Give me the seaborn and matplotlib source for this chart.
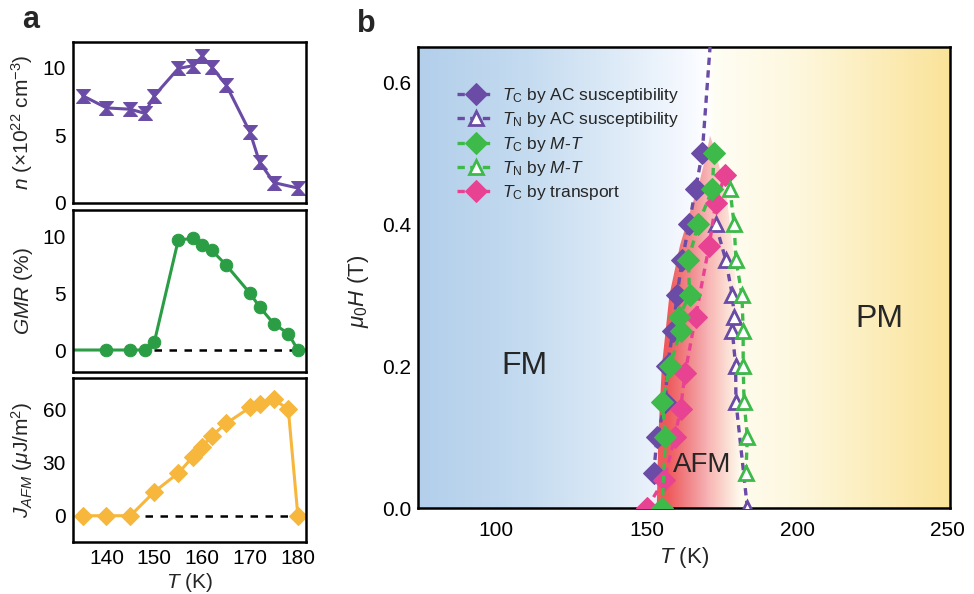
import numpy as np
import pandas as pd
import matplotlib
matplotlib.use("Agg")
import matplotlib.pyplot as plt
import seaborn as sns
from matplotlib.path import Path
from matplotlib.patches import Polygon

sns.set_style("white")
plt.rcParams["font.family"] = ["Liberation Sans", "DejaVu Sans"]
plt.rcParams["mathtext.fontset"] = "custom"
plt.rcParams["mathtext.rm"] = "Liberation Sans"
plt.rcParams["mathtext.it"] = "Liberation Sans:italic"
plt.rcParams["mathtext.bf"] = "Liberation Sans:bold"

# ---------------- Panel a data ----------------
T_n = [135, 140, 145, 148, 150, 155, 158, 160, 162, 165, 170, 172, 175, 180]
n_vals = [7.9, 7.0, 6.9, 6.6, 7.9, 9.9, 10.1, 10.8, 10.0, 8.7, 5.2, 3.0, 1.5, 1.1]

T_gmr = [133, 140, 145, 148, 150, 155, 158, 160, 162, 165, 170, 172, 175, 178, 180, 182]
gmr_vals = [0, 0, 0, 0, 0.7, 9.7, 9.85, 9.3, 8.8, 7.5, 5.0, 3.8, 2.3, 1.45, 0, 0]

T_j = [135, 140, 145, 150, 155, 158, 160, 162, 165, 170, 172, 175, 178, 180, 182]
j_vals = [0, 0, 0, 13.5, 24, 33, 39, 45, 52, 61, 63, 65.5, 60, 0, 0]

# ---------------- Panel b data ----------------
H_tc_ac = [0.05, 0.10, 0.15, 0.20, 0.25, 0.30, 0.35, 0.40, 0.45, 0.50]
T_tc_ac = [152.3, 153.4, 156.2, 156.8, 158.7, 160.0, 161.8, 164.0, 166.2, 168.4]
H_tc_ac_guide = [0.50, 0.65]
T_tc_ac_guide = [168.4, 171.0]

H_tn_ac = [0.0, 0.15, 0.20, 0.25, 0.27, 0.30, 0.35, 0.40]
T_tn_ac = [183.4, 179.6, 179.5, 178.4, 179.0, 178.4, 176.2, 172.9]

H_tc_mt = [0.0, 0.10, 0.15, 0.20, 0.25, 0.27, 0.30, 0.35, 0.40, 0.45, 0.50]
T_tc_mt = [155.1, 156.2, 155.1, 157.7, 161.2, 160.7, 164.2, 163.8, 167.1, 171.8, 172.3]

H_tn_mt = [0.05, 0.10, 0.15, 0.20, 0.25, 0.30, 0.35, 0.40, 0.45]
T_tn_mt = [182.9, 183.4, 182.3, 182.0, 182.0, 181.6, 179.6, 179.0, 177.6]

H_tc_tr = [0.0, 0.04, 0.10, 0.14, 0.19, 0.27, 0.37, 0.43, 0.47]
T_tc_tr = [150.1, 155.7, 159.3, 161.2, 162.7, 166.2, 170.7, 172.9, 176.0]

PURPLE = "#6a4ba5"
GREEN_A = "#2a9d45"
GOLD = "#f6b73c"
GREEN_B = "#3dba4a"
PINK = "#e84393"

W, H = 974, 594
fig = plt.figure(figsize=(W / 100, H / 100), dpi=100)


def box(l, t, r, b):
    return [l / W, 1 - b / H, (r - l) / W, (b - t) / H]


def style_axes(ax):
    for s in ax.spines.values():
        s.set_linewidth(1.8)
        s.set_color("black")
    ax.tick_params(direction="in", length=8, width=1.8, labelsize=15,
                   colors="black", pad=5)


# ---------------- Panel a ----------------
ax1 = fig.add_axes(box(73, 42, 306, 203))
ax2 = fig.add_axes(box(73, 210, 306, 372))
ax3 = fig.add_axes(box(73, 378, 306, 542))

hourglass = Path([(-1, 1), (1, 1), (0.12, 0), (1, -1), (-1, -1), (-0.12, 0), (-1, 1)],
                 [Path.MOVETO, Path.LINETO, Path.LINETO, Path.LINETO,
                  Path.LINETO, Path.LINETO, Path.CLOSEPOLY])

sns.lineplot(x=T_n, y=n_vals, ax=ax1, color=PURPLE, lw=2.2, marker=hourglass,
             markersize=10, markeredgecolor=PURPLE, markerfacecolor=PURPLE,
             estimator=None, sort=False)
ax2.hlines(0, 150, 180, colors="black", linestyles=(0, (3, 3)), lw=1.8, zorder=1)
sns.lineplot(x=T_gmr, y=gmr_vals, ax=ax2, color=GREEN_A, lw=2.2, marker="o",
             markersize=9, markeredgecolor=GREEN_A, markerfacecolor=GREEN_A,
             markevery=list(range(1, len(T_gmr) - 1)), estimator=None, sort=False)
ax3.hlines(0, 145, 180, colors="black", linestyles=(0, (3, 3)), lw=1.8, zorder=1)
sns.lineplot(x=T_j, y=j_vals, ax=ax3, color=GOLD, lw=2.2, marker="D",
             markersize=9, markeredgecolor=GOLD, markerfacecolor=GOLD,
             markevery=list(range(0, len(T_j) - 1)), estimator=None, sort=False)

for ax in (ax1, ax2, ax3):
    ax.set_xlim(133, 181.7)
    ax.set_xticks([140, 150, 160, 170, 180])
    style_axes(ax)
    ax.set_xlabel("")
for ax in (ax1, ax2):
    ax.tick_params(labelbottom=False)

ax1.set_ylim(0, 11.85)
ax1.set_yticks([0, 5, 10])
ax2.set_ylim(-1.94, 12.35)
ax2.set_yticks([0, 5, 10])
ax3.set_ylim(-14.8, 77.6)
ax3.set_yticks([0, 30, 60])

ax1.set_ylabel(r"$n$ ($\times$10$^{22}$ cm$^{-3}$)", fontsize=15)
ax2.set_ylabel(r"$GMR$ (%)", fontsize=15)
ax3.set_ylabel(r"$J_{AFM}$ ($\mu$J/m$^{2}$)", fontsize=15)
ax3.set_xlabel(r"$T$ (K)", fontsize=15, labelpad=2)
for ax in (ax1, ax2, ax3):
    ax.yaxis.set_label_coords(-0.165, 0.5)

# ---------------- Panel b ----------------
axb = fig.add_axes(box(418, 47, 950, 508))
xl = (74.0, 250.7)
yl = (0.0, 0.65)

# background gradient (FM blue -> white -> PM yellow)
tt = np.linspace(xl[0], xl[1], 600)
stops_T = [74.0, 110, 140, 165, 171, 172, 200, 250.7]
stops_c = np.array([[0.70, 0.81, 0.92], [0.77, 0.86, 0.94], [0.87, 0.92, 0.97],
                    [0.97, 0.98, 1.00], [1.0, 1.0, 1.0], [1.0, 0.995, 0.96],
                    [0.995, 0.97, 0.87], [0.98, 0.89, 0.60]])
bg = np.stack([np.interp(tt, stops_T, stops_c[:, k]) for k in range(3)], axis=-1)[None, :, :]
axb.imshow(bg, extent=[xl[0], xl[1], yl[0], yl[1]], aspect="auto",
           interpolation="bilinear", zorder=0)

# AFM dome (red gradient clipped to region)
dome = [(153.3, 0), (153.8, 0.1), (155.0, 0.2), (157.5, 0.3), (161.0, 0.37),
        (164.5, 0.42), (167.5, 0.46), (169.8, 0.5), (171.0, 0.525), (173.0, 0.5),
        (176.5, 0.44), (179.0, 0.35), (180.5, 0.25), (181.5, 0.12), (182.0, 0)]
poly = Polygon(dome, closed=True, facecolor="none", edgecolor="none",
               transform=axb.transData)
axb.add_patch(poly)
tr = np.linspace(150, 185, 300)
alpha = np.clip((181 - tr) / (181 - 157), 0, 1)
red = np.zeros((1, len(tr), 4))
red[..., 0] = 0.94
red[..., 1] = 0.35
red[..., 2] = 0.36
red[..., 3] = alpha
im = axb.imshow(red, extent=[150, 185, 0, 0.55], aspect="auto",
                interpolation="bilinear", zorder=1)
im.set_clip_path(poly)

dash = (0, (2.2, 1.6))
sns.lineplot(x=T_tc_ac_guide, y=H_tc_ac_guide, ax=axb, color=PURPLE, lw=2.4,
             linestyle=dash, estimator=None, sort=False, zorder=3)
sns.lineplot(x=T_tc_ac, y=H_tc_ac, ax=axb, color=PURPLE, lw=2.4, linestyle=dash,
             marker="D", markersize=11, markeredgecolor=PURPLE, markerfacecolor=PURPLE,
             estimator=None, sort=False, zorder=3, label=r"$T_\mathrm{C}$ by AC susceptibility")
sns.lineplot(x=T_tn_ac, y=H_tn_ac, ax=axb, color=PURPLE, lw=2.4, linestyle=dash,
             marker="^", markersize=10, markeredgecolor=PURPLE, markerfacecolor="white",
             markeredgewidth=2, estimator=None, sort=False, zorder=3,
             label=r"$T_\mathrm{N}$ by AC susceptibility")
sns.lineplot(x=T_tc_mt, y=H_tc_mt, ax=axb, color=GREEN_B, lw=2.4, linestyle=dash,
             marker="D", markersize=11, markeredgecolor=GREEN_B, markerfacecolor=GREEN_B,
             estimator=None, sort=False, zorder=4, label=r"$T_\mathrm{C}$ by $M$-$T$")
sns.lineplot(x=T_tn_mt, y=H_tn_mt, ax=axb, color=GREEN_B, lw=2.4, linestyle=dash,
             marker="^", markersize=10, markeredgecolor=GREEN_B, markerfacecolor="white",
             markeredgewidth=2, estimator=None, sort=False, zorder=4,
             label=r"$T_\mathrm{N}$ by $M$-$T$")
sns.lineplot(x=T_tc_tr, y=H_tc_tr, ax=axb, color=PINK, lw=2.4, linestyle=dash,
             marker="D", markersize=11, markeredgecolor=PINK, markerfacecolor=PINK,
             estimator=None, sort=False, zorder=3, label=r"$T_\mathrm{C}$ by transport")

axb.set_xlim(*xl)
axb.set_ylim(*yl)
axb.set_xticks([100, 150, 200, 250])
axb.set_yticks([0.0, 0.2, 0.4, 0.6])
axb.yaxis.set_major_formatter(matplotlib.ticker.FormatStrFormatter("%.1f"))
style_axes(axb)
axb.tick_params(axis="x", pad=9)
axb.set_xlabel(r"$T$ (K)", fontsize=16, labelpad=4)
axb.set_ylabel(r"$\mu_0H$ (T)", fontsize=16)
axb.yaxis.set_label_coords(-0.088, 0.47)

leg = axb.legend(loc="upper left", bbox_to_anchor=(0.06, 0.93), frameon=False,
                 fontsize=12.5, handlelength=2.2, handletextpad=0.4,
                 labelspacing=0.3, borderaxespad=0)

axb.text(109.5, 0.2, "FM", fontsize=23, ha="center", va="center", zorder=6)
axb.text(227.3, 0.266, "PM", fontsize=23, ha="center", va="center", zorder=6)
axb.text(168.5, 0.061, "AFM", fontsize=20, ha="center", va="center", zorder=6)

fig.text(22 / W, 1 - 20 / H, "a", fontsize=22, fontweight="bold", va="center", ha="left")
fig.text(357 / W, 1 - 24 / H, "b", fontsize=22, fontweight="bold", va="center", ha="left")

fig.savefig("out.png", dpi=100)
